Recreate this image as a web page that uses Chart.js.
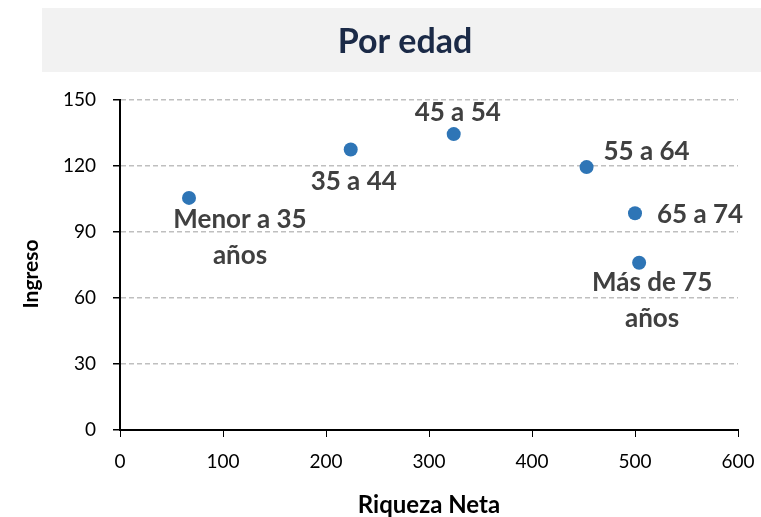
<!DOCTYPE html>
<html>
<head>
<meta charset="utf-8">
<script src="https://cdn.jsdelivr.net/npm/chart.js@4.4.0/dist/chart.umd.min.js"></script>
<style>
  html, body { margin: 0; padding: 0; background: #fff; }
  #wrap { width: 761px; height: 517px; position: relative; }
</style>
</head>
<body>
<div id="wrap"><canvas id="chart"></canvas></div>
<script>
// data
var groups   = [['Menor a 35', 'años'], '35 a 44', '45 a 54', '55 a 64', '65 a 74', ['Más de 75', 'años']];
var riqueza  = [67, 224, 324, 453, 500, 504];
var ingreso  = [105.5, 127.5, 134.5, 119.5, 98.5, 76];
var xTicks   = [0, 100, 200, 300, 400, 500, 600];
var yTicks   = [0, 30, 60, 90, 120, 150];

// where each label sits relative to its point (px)
var labelOffsets = [[51, 22], [3, 32], [4, -21], [60, -15], [65, 1], [13, 20]];

var FONT = 'Lato, "Open Sans", sans-serif';

var points = riqueza.map(function(x, i){ return {x: x, y: ingreso[i]}; });

var decor = {
  id: 'decor',
  beforeDraw: function(chart){
    var ctx = chart.ctx;
    ctx.save();
    ctx.fillStyle = '#F2F2F2';
    ctx.fillRect(42, 8, 719, 64);
    ctx.fillStyle = '#1B2A47';
    ctx.font = 'bold 34px ' + FONT;
    ctx.textAlign = 'center';
    ctx.textBaseline = 'middle';
    ctx.fillText('Por edad', 405, 42);

    ctx.fillStyle = '#000';
    ctx.font = 'bold 24px ' + FONT;
    ctx.fillText('Riqueza Neta', 429, 505);
    ctx.font = 'bold 21px ' + FONT;
    ctx.translate(31, 274);
    ctx.rotate(-Math.PI / 2);
    ctx.fillText('Ingreso', 0, 0);
    ctx.restore();
  },
  afterDatasetsDraw: function(chart){
    var ctx = chart.ctx;
    var meta = chart.getDatasetMeta(0);
    ctx.save();
    ctx.fillStyle = '#404040';
    ctx.font = 'bold 26px ' + FONT;
    ctx.textAlign = 'center';
    ctx.textBaseline = 'middle';
    meta.data.forEach(function(pt, i){
      var lines = [].concat(groups[i]);
      var cx = pt.x + labelOffsets[i][0];
      var cy = pt.y + labelOffsets[i][1];
      lines.forEach(function(t, j){
        ctx.fillText(t, cx, cy + j * 36);
      });
    });
    ctx.restore();
  }
};

new Chart(document.getElementById('chart'), {
  type: 'scatter',
  data: {
    datasets: [{
      data: points,
      backgroundColor: '#2E75B6',
      borderWidth: 0,
      pointRadius: 7,
      pointHoverRadius: 7
    }]
  },
  options: {
    responsive: true,
    maintainAspectRatio: false,
    animation: false,
    layout: { padding: { top: 100, right: 23, left: 0, bottom: 0 } },
    plugins: { legend: { display: false }, tooltip: { enabled: false } },
    scales: {
      x: {
        type: 'linear', min: 0, max: 600,
        afterBuildTicks: function(s){ s.ticks = xTicks.map(function(v){ return {value: v}; }); },
        afterFit: function(s){ s.height = 87; s.paddingRight = 0; s.paddingLeft = 0; },
        grid: { drawOnChartArea: false, drawTicks: true, tickLength: 7, tickColor: '#000', color: '#000' },
        border: { display: true, color: '#000', width: 2 },
        ticks: { color: '#000', font: { family: FONT, size: 19 }, padding: 13, maxRotation: 0 }
      },
      y: {
        type: 'linear', min: 0, max: 150,
        afterBuildTicks: function(s){ s.ticks = yTicks.map(function(v){ return {value: v}; }); },
        afterFit: function(s){ s.width = 120; s.paddingTop = 0; s.paddingBottom = 0; },
        grid: { color: '#BFBFBF', lineWidth: 1.5, drawTicks: true, tickLength: 7, tickColor: '#000', tickBorderDash: [] },
        border: { display: true, color: '#000', width: 2, dash: [5, 3] },
        ticks: { color: '#000', font: { family: FONT, size: 19 }, padding: 17 }
      }
    }
  },
  plugins: [decor]
});
</script>
</body>
</html>
